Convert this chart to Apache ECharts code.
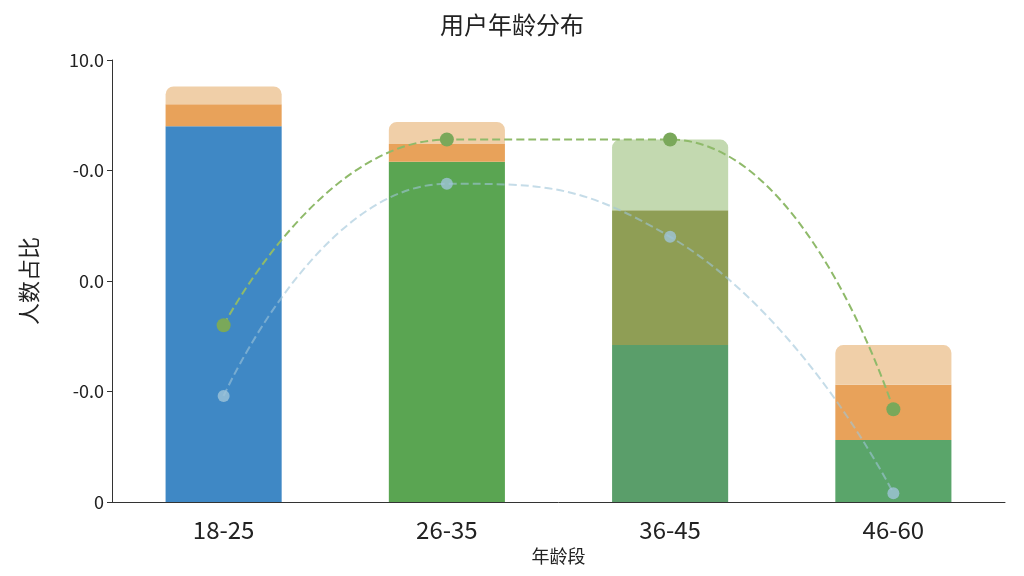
<!DOCTYPE html>
<html><head><meta charset="utf-8">
<script src="https://cdn.jsdelivr.net/npm/echarts@6/dist/echarts.min.js"></script>
<style>html,body{margin:0;background:#fff}#c{width:1024px;height:576px}</style>
</head><body><div id="c"></div>
<script>
const categories = ['18-25','26-35','36-45','46-60'];
const base = [8.5, 7.7, 3.55, 1.4];
const mid = [0.5, 0.4, 3.05, 1.25];
const top_ = [0.4, 0.5, 1.6, 0.9];
const baseColors = ['#3f88c5','#5aa552','#5a9e6a','#5aa56a'];
const midColors = ['#e8a25a','#e8a25a','#8f9e55','#e8a25a'];
const topColors = ['#f0cfa8','#f0cfa8','#c3d9b0','#f0cfa8'];
const lineA = [4.0, 8.2, 8.2, 2.1];
const lineB = [2.4, 7.2, 6.0, 0.2];
const tickLabels = {0:'0',2.5:'-0.0',5:'0.0',7.5:'-0.0',10:'10.0'};
const ch = echarts.init(document.getElementById('c'));
const f = 'Noto Sans CJK SC';
ch.setOption({
  title:{text:'用户年龄分布',left:'center',top:8,textStyle:{fontFamily:f,fontSize:24,fontWeight:'normal',color:'#222'}},
  grid:{left:112,right:19,top:60,bottom:74},
  xAxis:{type:'category',data:categories,name:'年龄段',nameLocation:'middle',nameGap:40,
    nameTextStyle:{fontFamily:f,fontSize:18,color:'#222'},
    axisLine:{lineStyle:{color:'#333'}},axisTick:{length:8,lineStyle:{color:'#333'}},
    axisLabel:{fontFamily:f,fontSize:24,color:'#222',margin:16}},
  yAxis:{type:'value',min:0,max:10,interval:2.5,name:'人数占比',nameLocation:'middle',nameGap:72,
    nameTextStyle:{fontFamily:f,fontSize:22,color:'#222'},
    axisLine:{show:true,lineStyle:{color:'#333'}},axisTick:{show:true,lineStyle:{color:'#333'}},splitLine:{show:false},
    axisLabel:{fontFamily:f,fontSize:18,color:'#222',formatter:v=>tickLabels[v]}},
  series:[
    {type:'bar',stack:'s',barWidth:'52%',data:base.map((v,i)=>({value:v,itemStyle:{color:baseColors[i]}}))},
    {type:'bar',stack:'s',data:mid.map((v,i)=>({value:v,itemStyle:{color:midColors[i]}}))},
    {type:'bar',stack:'s',data:top_.map((v,i)=>({value:v,itemStyle:{color:topColors[i],borderRadius:[8,8,0,0]}}))},
    {type:'line',smooth:true,data:lineA,symbol:'circle',symbolSize:14,itemStyle:{color:'#7aa85a'},lineStyle:{type:'dashed',width:2,color:'#8fba6a'}},
    {type:'line',smooth:true,data:lineB,symbol:'circle',symbolSize:12,itemStyle:{color:'#9fc4d8',opacity:0.8},lineStyle:{type:'dashed',width:2,color:'#9fc4d8',opacity:0.6}}
  ]
});
</script></body></html>
